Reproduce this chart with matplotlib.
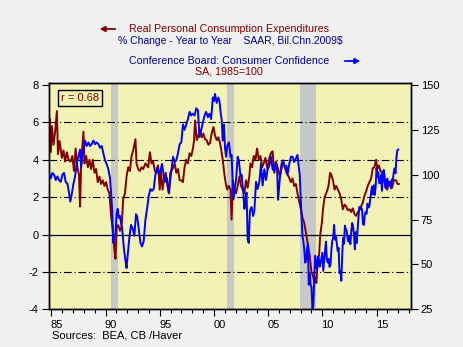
import matplotlib
matplotlib.use("Agg")
import matplotlib.pyplot as plt
from matplotlib.patches import FancyArrowPatch
from matplotlib.transforms import ScaledTranslation
import numpy as np

plt.rcParams['font.family'] = ['Liberation Sans', 'DejaVu Sans']

# Real PCE, % change year to year (left axis)
pce_t = [1984.75, 1984.84, 1984.95, 1985.05, 1985.20, 1985.35, 1985.51, 1985.61, 1985.76, 1985.97,
         1986.12, 1986.27, 1986.43, 1986.58, 1986.78, 1986.94, 1987.09, 1987.24, 1987.40, 1987.55,
         1987.65, 1987.75, 1987.96, 1988.06, 1988.21, 1988.37, 1988.52, 1988.67, 1988.82, 1988.98,
         1989.13, 1989.28, 1989.44, 1989.59, 1989.74, 1989.90, 1990.05, 1990.20, 1990.36, 1990.51,
         1990.66, 1990.82, 1990.92, 1991.02, 1991.17, 1991.33, 1991.48, 1991.63, 1991.79, 1991.94,
         1992.09, 1992.25, 1992.40, 1992.55, 1992.76, 1992.86, 1993.01, 1993.17, 1993.32, 1993.47,
         1993.68, 1993.93, 1994.09, 1994.24, 1994.39, 1994.55, 1994.70, 1994.85, 1995.00, 1995.10,
         1995.26, 1995.41, 1995.56, 1995.72, 1995.87, 1995.97, 1996.17, 1996.38, 1996.53, 1996.68,
         1996.84, 1996.99, 1997.14, 1997.29, 1997.45, 1997.60, 1997.75, 1997.91, 1998.06, 1998.16,
         1998.26, 1998.42, 1998.57, 1998.72, 1998.88, 1999.03, 1999.18, 1999.33, 1999.49, 1999.64,
         1999.79, 1999.95, 2000.10, 2000.25, 2000.40, 2000.56, 2000.71, 2000.81, 2000.97, 2001.07,
         2001.22, 2001.38, 2001.53, 2001.63, 2001.74, 2001.89, 2002.04, 2002.19, 2002.35, 2002.50,
         2002.65, 2002.81, 2002.96, 2003.11, 2003.26, 2003.37, 2003.52, 2003.67, 2003.83, 2003.98,
         2004.13, 2004.29, 2004.44, 2004.59, 2004.75, 2004.95, 2005.11, 2005.26, 2005.41, 2005.57,
         2005.72, 2005.92, 2006.08, 2006.23, 2006.38, 2006.54, 2006.69, 2006.89, 2007.10, 2007.25,
         2007.40, 2007.56, 2007.71, 2007.86, 2008.02, 2008.17, 2008.32, 2008.53, 2008.68, 2008.83,
         2008.99, 2009.14, 2009.24, 2009.34, 2009.45, 2009.60, 2009.70, 2009.80, 2009.96, 2010.06,
         2010.21, 2010.42, 2010.57, 2010.72, 2010.82, 2010.98, 2011.13, 2011.28, 2011.44, 2011.59,
         2011.74, 2011.89, 2012.05, 2012.20, 2012.35, 2012.51, 2012.66, 2012.81, 2012.96, 2013.12,
         2013.27, 2013.42, 2013.58, 2013.73, 2013.88, 2014.04, 2014.19, 2014.34, 2014.50, 2014.65,
         2014.80, 2014.96, 2015.06, 2015.21, 2015.36, 2015.52, 2015.67, 2015.82, 2015.98, 2016.13,
         2016.28, 2016.44, 2016.59, 2016.80, 2016.95, 2017.05]
pce_v = [5.0, 6.2, 4.4, 5.8, 4.8, 5.5, 6.6, 4.3, 5.0, 4.1,
         4.5, 3.9, 4.4, 4.0, 3.9, 4.2, 3.4, 4.6, 3.6, 3.2,
         1.5, 3.8, 5.5, 3.8, 4.2, 3.6, 4.0, 3.5, 4.0, 3.3,
         3.5, 2.8, 3.1, 2.7, 2.9, 2.6, 2.8, 2.4, 2.2, 1.0,
         0.3, -0.8, -1.3, 0.4, 0.5, 0.2, 0.4, 1.9, 2.2, 3.1,
         3.6, 3.4, 4.2, 4.5, 5.1, 3.8, 3.5, 3.4, 3.6, 3.5,
         3.8, 3.6, 4.4, 3.8, 3.9, 3.4, 3.3, 3.7, 2.4, 3.5,
         2.4, 3.0, 3.3, 2.6, 2.2, 3.3, 3.5, 3.8, 3.3, 3.5,
         2.9, 2.9, 2.8, 3.6, 4.0, 3.8, 4.35, 4.2, 4.6, 5.0,
         6.1, 5.05, 5.3, 5.6, 5.2, 5.4, 5.1, 5.05, 4.8, 4.9,
         5.4, 5.75, 5.3, 5.05, 5.2, 4.9, 4.4, 4.0, 3.2, 2.8,
         2.4, 2.6, 2.4, 0.8, 2.9, 2.4, 2.2, 2.6, 3.1, 2.6,
         2.4, 2.2, 2.9, 2.5, 3.1, 3.8, 3.6, 4.2, 4.0, 4.6,
         4.0, 4.2, 3.6, 3.8, 4.1, 3.5, 4.1, 4.35, 4.45, 3.3,
         3.9, 3.5, 3.1, 3.5, 3.9, 3.6, 3.3, 3.1, 2.8, 3.0,
         2.6, 2.7, 2.2, 1.8, 1.35, 0.9, 0.65, -0.05, -0.6, -1.1,
         -2.0, -2.2, -2.5, -2.3, -2.6, -1.3, -1.1, -0.05, 0.65, 1.35,
         2.0, 2.3, 2.6, 3.3, 3.2, 2.9, 2.4, 2.6, 2.4, 2.2,
         1.9, 1.35, 1.6, 1.5, 1.3, 1.35, 1.2, 1.4, 1.1, 1.0,
         1.2, 1.3, 1.5, 1.7, 2.06, 2.3, 2.6, 2.8, 3.0, 3.55,
         3.6, 4.0, 3.5, 3.7, 3.4, 3.3, 2.9, 2.6, 2.4, 2.7,
         2.8, 2.5, 2.9, 2.9, 2.7, 2.7]

# Conference Board consumer confidence, 1985=100 (right axis), through 2007
cc_t = [1984.75, 1984.84, 1984.95, 1985.10, 1985.25, 1985.41, 1985.56, 1985.71, 1985.87, 1986.02,
        1986.17, 1986.32, 1986.48, 1986.63, 1986.75, 1986.88, 1987.04, 1987.19, 1987.34, 1987.50,
        1987.65, 1987.75, 1987.90, 1988.11, 1988.26, 1988.42, 1988.57, 1988.72, 1988.88, 1989.03,
        1989.18, 1989.34, 1989.49, 1989.64, 1989.80, 1989.95, 1990.10, 1990.26, 1990.41, 1990.51,
        1990.61, 1990.71, 1990.82, 1990.92, 1991.02, 1991.12, 1991.22, 1991.33, 1991.43, 1991.53,
        1991.69, 1991.84, 1991.94, 1992.04, 1992.20, 1992.35, 1992.50, 1992.66, 1992.81, 1992.91,
        1993.06, 1993.22, 1993.37, 1993.52, 1993.68, 1993.83, 1993.98, 1994.14, 1994.29, 1994.44,
        1994.60, 1994.75, 1994.90, 1995.05, 1995.21, 1995.36, 1995.51, 1995.67, 1995.82, 1995.92,
        1996.07, 1996.23, 1996.38, 1996.53, 1996.68, 1996.84, 1996.99, 1997.14, 1997.29, 1997.45,
        1997.60, 1997.75, 1997.91, 1998.06, 1998.21, 1998.37, 1998.52, 1998.67, 1998.83, 1998.98,
        1999.13, 1999.28, 1999.44, 1999.59, 1999.74, 1999.90, 2000.00, 2000.10, 2000.25, 2000.40,
        2000.51, 2000.61, 2000.71, 2000.81, 2000.92, 2001.02, 2001.12, 2001.22, 2001.38, 2001.53,
        2001.63, 2001.79, 2001.94, 2002.04, 2002.19, 2002.30, 2002.45, 2002.55, 2002.71, 2002.81,
        2002.91, 2003.01, 2003.11, 2003.21, 2003.32, 2003.47, 2003.62, 2003.73, 2003.88, 2004.03,
        2004.19, 2004.34, 2004.49, 2004.65, 2004.80, 2004.95, 2005.11, 2005.26, 2005.41, 2005.57,
        2005.72, 2005.82, 2005.92, 2006.08, 2006.23, 2006.38, 2006.54, 2006.69, 2006.79, 2006.95,
        2007.10, 2007.25, 2007.40, 2007.56, 2007.71, 2007.81, 2007.91]
cc_v = [102, 100, 98, 101, 100, 97, 99, 97, 96, 100,
        101, 96, 95, 90, 85, 89, 95, 99, 106, 110,
        114, 104, 112, 119, 116, 118, 116, 117, 119, 117,
        118, 117, 115, 116, 112, 108, 106, 103, 98, 90,
        80, 62, 66, 67, 78, 81, 76, 77, 73, 70,
        59, 52, 48, 55, 65, 72, 70, 66, 78, 77,
        70, 62, 60, 63, 75, 81, 88, 92, 91, 92,
        100, 104, 101, 102, 106, 100, 96, 98, 90, 95,
        102, 110, 107, 108, 112, 117, 118, 128, 125, 128,
        131, 135, 133, 134, 133, 137, 136, 121, 125, 129,
        133, 135, 132, 134, 131, 143, 141, 145, 140, 143,
        141, 135, 131, 119, 128, 115, 110, 116, 118, 110,
        111, 86, 93, 97, 110, 108, 99, 100, 90, 81,
        86, 90, 64, 62, 80, 82, 77, 80, 96, 92,
        96, 106, 94, 103, 97, 103, 105, 110, 103, 102,
        106, 104, 86, 98, 106, 108, 104, 105, 100, 106,
        110, 110, 107, 109, 111, 105, 100]

# Confidence index, monthly from January 2008
cc_monthly_start = 2008.0
cc_monthly = [87.3, 76.4, 65.9, 62.8, 58.1, 51.0, 51.9, 58.5, 61.4, 38.8, 44.7, 38.6,
              37.4, 25.3, 26.9, 40.8, 54.8, 49.3, 47.4, 54.5, 53.4, 48.7, 50.6, 53.6,
              56.5, 46.4, 52.3, 57.7, 62.7, 52.9, 51.0, 53.2, 48.6, 49.9, 57.8, 63.4,
              64.8, 72.0, 63.8, 66.0, 61.7, 57.6, 59.2, 45.2, 46.4, 40.9, 55.2, 64.8,
              61.5, 71.6, 69.5, 68.7, 64.4, 62.7, 65.4, 61.3, 68.4, 73.1, 71.5, 66.7,
              58.4, 68.0, 61.9, 69.0, 76.2, 82.1, 81.0, 81.8, 80.2, 72.4, 72.0, 77.5,
              79.4, 78.3, 83.9, 81.7, 82.2, 86.4, 90.3, 93.4, 89.0, 94.1, 88.7, 93.1,
              103.8, 98.8, 101.4, 95.2, 95.4, 99.8, 91.0, 101.3, 102.6, 99.1, 92.6, 96.3,
              97.8, 94.0, 96.2, 94.2, 92.4, 97.4, 96.7, 101.1, 103.5, 100.8, 109.4, 113.7,
              114.0]

recessions = [(1990.50, 1991.12), (2001.17, 2001.87), (2007.92, 2009.46)]
corr_label = "r = 0.68"
year_labels = ["85", "90", "95", "00", "05", "10", "15"]

YELLOW = "#F2F2B4"
GREY_BG = "#F0F0F0"
MAROON = "#800000"
BLUE = "#0000FF"
NAVY = "#00009A"

cc_all_t = list(cc_t) + [cc_monthly_start + k / 12.0 for k in range(len(cc_monthly))]
cc_all_v = list(cc_v) + list(cc_monthly)

fig = plt.figure(figsize=(4.63, 3.47), dpi=100, facecolor=GREY_BG)
ax = fig.add_axes([0.1048, 0.1086, 0.7829, 0.6531])
ax.set_facecolor(YELLOW)

L_LO, L_HI = -4.0, 8.12
X_LO, X_HI = 1984.74, 2018.18
ax.set_ylim(L_LO, L_HI)
ax.set_xlim(X_LO, X_HI)

for a, b in recessions:
    ax.axvspan(a, b, color="#C8C8C8", lw=0, zorder=1)

for g in [6, 4, 2, -2]:
    ax.axhline(g, color="black", lw=0.8, ls=(0, (7, 2.5, 1, 2.5)), zorder=2)
ax.axhline(0, color="black", lw=0.9, zorder=2)

ax.plot(pce_t, pce_v, color=MAROON, lw=1.4, zorder=4)

# Right axis maps -4 -> 25 and 8 -> 150
ax2 = ax.twinx()
ax2.set_ylim(66.6667 + 10.41667 * L_LO, 66.6667 + 10.41667 * L_HI)
ax2.plot(cc_all_t, cc_all_v, color=BLUE, lw=1.4, zorder=3)
ax2.set_xlim(X_LO, X_HI)

ax.set_yticks([-4, -2, 0, 2, 4, 6, 8])
ax.set_yticklabels(["-4", "-2", "0", "2", "4", "6", "8"])
ax2.set_yticks([25, 50, 75, 100, 125, 150])

ax.set_xticks(np.arange(1985, 2016, 5))
ax.set_xticklabels(year_labels)
ax.set_xticks(np.arange(1985, 2019), minor=True)

for a in (ax, ax2):
    a.tick_params(axis="both", which="major", direction="out", length=5, width=0.8,
                  labelsize=8, colors="black", pad=2)
    a.tick_params(axis="x", which="minor", direction="out", length=3, width=0.8)
    for s in a.spines.values():
        s.set_linewidth(1.0)
        s.set_color("black")
ax.tick_params(axis="x", pad=3)

# year labels sit in the middle of their year
shift = ScaledTranslation(0.054, 0, fig.dpi_scale_trans)
for lbl in ax.get_xticklabels():
    lbl.set_transform(lbl.get_transform() + shift)

ax.text(0.035, 0.955, corr_label, transform=ax.transAxes, fontsize=8, color=MAROON,
        ha="left", va="top",
        bbox=dict(boxstyle="square,pad=0.25", fc=YELLOW, ec="black", lw=1.0), zorder=6)


def px(x, y):
    return x / 463.0, 1 - y / 347.0


fig.text(*px(229, 29), "Real Personal Consumption Expenditures", color=MAROON,
         fontsize=7.7, ha="center", va="center")
fig.text(*px(230, 41), "% Change - Year to Year    SAAR, Bil.Chn.2009$", color=NAVY,
         fontsize=7.5, ha="center", va="center")
fig.text(*px(229, 61), "Conference Board: Consumer Confidence", color=NAVY,
         fontsize=7.7, ha="center", va="center")
fig.text(*px(229, 72), "SA, 1985=100", color=MAROON,
         fontsize=7.7, ha="center", va="center")

fig.add_artist(FancyArrowPatch(px(118, 29), px(97, 29), transform=fig.transFigure,
               arrowstyle="-|>,head_length=3,head_width=1.6", color=MAROON, lw=1.3))
fig.add_artist(FancyArrowPatch(px(342, 61), px(363, 61), transform=fig.transFigure,
               arrowstyle="-|>,head_length=3,head_width=1.6", color=BLUE, lw=1.3))

fig.text(*px(52, 336), "Sources:  BEA, CB /Haver", color="black", fontsize=8,
         ha="left", va="center")

fig.savefig("out.png", dpi=100, facecolor=GREY_BG)
